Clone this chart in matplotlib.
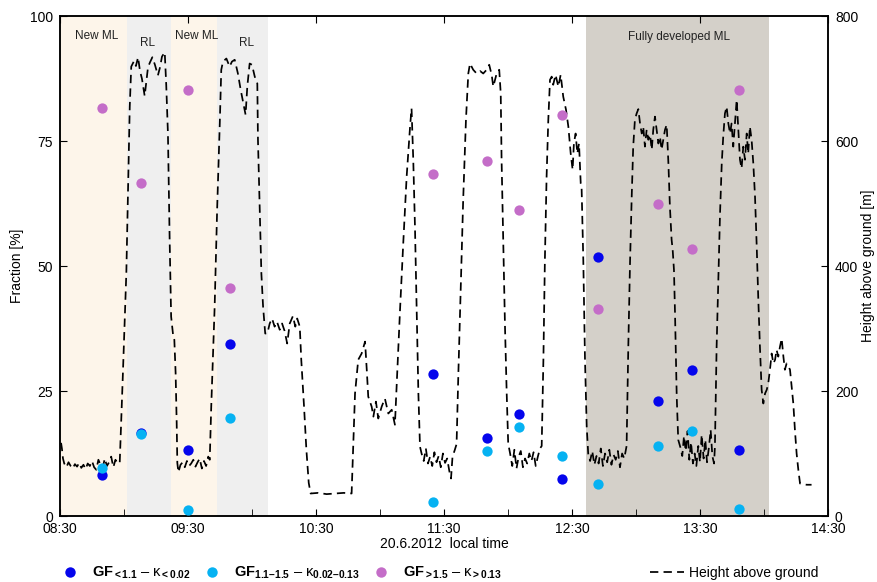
import matplotlib
matplotlib.use("Agg")
import matplotlib.pyplot as plt
from matplotlib.lines import Line2D

plt.rcParams['font.family'] = ['Liberation Sans', 'DejaVu Sans']
plt.rcParams['mathtext.fontset'] = 'custom'
plt.rcParams['mathtext.rm'] = 'Liberation Sans'
plt.rcParams['mathtext.it'] = 'Liberation Sans'
plt.rcParams['mathtext.bf'] = 'Liberation Sans:bold'

# ---------------- data ----------------
# time axis: minutes after 08:30 local time (20.6.2012)
tick_labels = ["08:30", "09:30", "10:30", "11:30", "12:30", "13:30", "14:30"]

# sample times (minutes after 08:30) of the fraction measurements
sample_time = [19.8, 37.8, 59.9, 79.8, 175.0, 200.2, 215.2, 235.3, 252.2, 280.3, 296.4, 318.4]
frac_low = [8.3, 16.6, 13.2, 34.5, 28.5, 15.7, 20.5, 7.5, 51.8, 23.1, 29.2, 13.2]      # GF<1.1
frac_mid = [9.7, 16.5, 1.3, 19.6, 2.9, 13.0, 17.9, 12.1, 6.5, 14.1, 17.1, 1.5]        # GF 1.1-1.5
frac_high = [81.7, 66.6, 85.2, 45.7, 68.5, 71.1, 61.3, 80.2, 41.4, 62.5, 53.5, 85.3]  # GF>1.5

# height above ground of the measurement platform
height_time = [
    0.5, 0.9, 1.4, 2, 3, 4, 5, 6, 7, 8, 9, 10, 11, 12, 13, 14, 15, 16, 17, 18, 19, 20, 21, 22, 23, 24, 25, 26, 27,
    28.0, 29.5, 31.1, 31.9, 32.7, 33.4,
    34.7, 35.6, 36.6, 37.5, 38.4, 39.7, 40.3, 41.25, 42.2, 43.3, 44.5, 45.9, 46.9, 47.8, 49.1, 49.8,
    50.6, 51.4, 52.1, 53.0, 53.6, 54.2, 54.7, 55.0,
    55.5, 56.5, 57.5, 58.5, 59.5, 60.5, 61.5, 62.5, 63.5, 64.5, 65.5, 66.5, 67.5, 68.5, 69.5, 70.2,
    70.9, 72.5, 73.7, 74.9, 75.6,
    76.4, 78.0, 79.5, 80.6, 81.9, 83.4, 84.7, 85.8, 87.0, 87.8, 88.9, 90.0, 91.3, 92.5,
    92.8, 93.6, 94.4, 95.2, 96.2,
    97.2, 98.3, 99.4, 100.6, 101.7, 103.0, 104.1, 105.3, 106.5, 107.7, 109.2, 110.3, 111.2, 112.4,
    113.1, 114.4, 115.5, 116.6, 117.5,
    121, 125, 129, 133, 136.7,
    137.5, 138.3, 139.8, 141.4, 143.0, 143.8, 144.5, 146.1, 146.9, 148.1, 149.2, 150.8, 152.3, 153.9, 155.5, 157.0,
    157.8, 159.4, 160.9, 162.5, 164.1, 164.8,
    165.6, 166.4, 167.2, 168.0, 168.75,
    169.5, 170.5, 171.5, 172.5, 173.5, 174.5, 175.5, 176.5, 177.5, 178.5, 179.5, 180.5, 181.5, 182.5, 183.3, 184, 185, 185.9,
    186.7, 187.8, 189.0, 190.3, 191.4,
    192.2, 193.7, 195.3, 196.9, 198.4, 200, 201.2, 202.4, 203.1, 204.7, 205.9,
    206.6, 207.0, 207.8, 208.6, 209.4, 210.1,
    211, 212, 213, 214, 215, 216, 217, 218, 219, 220, 221, 222, 223, 224, 225, 225.8,
    226.6, 227.3, 228.1, 228.9, 229.7,
    230.5, 231.2, 232.3, 233.6, 234.7, 235.9, 237.2, 238.3, 239.4, 240.3, 240.9, 241.7, 242.5, 243.3, 244.1, 244.5,
    245.3, 246.1, 246.9, 247.6,
    248.5, 249.5, 250.5, 251.5, 252.5, 253.5, 254.5, 255.5, 256.5, 257.5, 258.5, 259.5, 260.5, 261.5, 262.5, 263.5, 264.5, 265.6,
    266.4, 267.2, 268.0, 268.7, 269.5,
    270.3, 271.1, 271.9, 272.7, 273.4, 274.2, 275.0, 275.8, 276.6, 277.4, 278.1, 278.9, 279.7, 280.5, 281.25, 282.0, 282.8, 283.6, 284.4, 285.2,
    285.9, 286.7, 287.2, 287.5, 287.8, 288.3, 289.1, 289.8,
    290.8, 291.7, 292.5, 293.3, 294.2, 295, 295.8, 296.7, 297.5, 298.3, 299.2, 300, 300.8, 301.7, 302.5, 303.3, 304.2, 305, 305.8, 306.6, 307.0,
    307.8, 308.6, 309.4, 310.2, 310.9,
    311.7, 312.5, 313.3, 314.1, 314.8, 315.6, 316.4, 317.2, 318.0, 318.75, 319.5, 320.3, 321.1, 321.9, 322.6, 323.4, 324.2, 325.0,
    325.8, 326.6, 327.3, 328.1, 328.9, 329.7,
    330.5, 331.3, 332.0, 332.8, 333.6, 334.4, 335.2, 335.9, 336.7, 337.5, 338.3, 339.1, 339.8, 340.6, 341.4, 342.2,
    343.0, 343.75, 344.5, 345.3, 346.1, 346.9, 348.4, 350, 352.3,
]
height_m = [
    117, 108, 92, 84, 78, 86, 80, 76, 83, 79, 85, 77, 82, 75, 84, 80, 88, 78, 74, 90, 82, 77, 92, 80, 86, 95, 78, 90, 84,
    85, 229, 389, 522, 655, 719,
    728, 720, 734, 712, 700, 672, 690, 718, 726, 734, 722, 705, 718, 735, 742, 690,
    612, 442, 319, 290, 282, 229, 149, 85,
    70, 82, 86, 78, 88, 80, 84, 90, 79, 86, 92, 76, 88, 80, 95, 90,
    175, 335, 495, 628, 714,
    727, 732, 719, 727, 730, 708, 682, 663, 642, 687, 724, 722, 703, 692,
    602, 495, 388, 335, 292,
    292, 308, 316, 303, 311, 298, 308, 296, 276, 308, 320, 303, 316, 303,
    250, 175, 106, 53, 36,
    37, 35, 36, 37, 36,
    116, 196, 250, 260, 279, 234, 191, 175, 159, 183, 156, 175, 188, 164, 170, 146,
    207, 330, 436, 543, 623, 652,
    570, 463, 330, 196, 111,
    100, 88, 108, 84, 95, 80, 102, 86, 96, 78, 100, 85, 92, 72, 60, 95, 105, 115,
    223, 356, 506, 634, 708,
    724, 714, 708, 712, 708, 714, 722, 705, 687, 708, 714,
    676, 570, 436, 303, 196, 116,
    100, 80, 106, 76, 95, 104, 78, 92, 84, 100, 88, 102, 80, 95, 108, 112,
    250, 410, 543, 634, 698,
    703, 690, 706, 687, 706, 671, 650, 623, 580, 554, 596, 612, 580, 596, 532, 527,
    410, 250, 143, 100,
    88, 104, 82, 96, 84, 108, 80, 100, 86, 106, 82, 98, 90, 104, 78, 100, 92, 112,
    271, 404, 511, 591, 634,
    644, 651, 628, 612, 623, 591, 618, 602, 610, 586, 618, 639, 618, 596, 607, 586, 602, 618, 626, 564,
    495, 442, 426, 410, 394, 324, 191, 122,
    110, 96, 128, 104, 136, 90, 118, 84, 100, 80, 112, 86, 130, 92, 122, 86, 110, 138, 96, 84, 111,
    271, 378, 484, 564, 607,
    644, 655, 628, 612, 628, 591, 628, 666, 618, 570, 556, 591, 570, 612, 580, 623, 602, 564,
    511, 431, 351, 271, 202, 180,
    196, 202, 212, 234, 260, 244, 250, 266, 255, 271, 284, 255, 234, 244, 240, 234,
    207, 180, 138, 100, 74, 52, 51, 50, 50,
]

# boundary-layer regimes (start, end in minutes after 08:30)
regime_names = ["New ML", "RL", "New ML", "RL", "Fully developed ML"]
regime_start = [0, 31.4, 51.9, 73.5, 246.6]
regime_end = [31.4, 51.9, 73.5, 97.4, 332.3]
regime_colors = ["#FDF5EA", "#EFEFEF", "#FDF5EA", "#EFEFEF", "#D4D0C9"]
regime_label_pos = [(17.3, 96.0), (40.8, 94.6), (64.1, 96.0), (87.5, 94.6), (290.0, 95.8)]

c_low, c_mid, c_high = "#0505EC", "#06B2F2", "#C46DC8"

# ---------------- figure ----------------
fig = plt.figure(figsize=(8.77, 5.82), dpi=100)
ax = fig.add_axes([0.0684, 0.1134, 0.8757, 0.8591])
ax2 = ax.twinx()
ax.set_zorder(ax2.get_zorder() + 1)
ax.patch.set_visible(False)

for s, e, c in zip(regime_start, regime_end, regime_colors):
    ax2.axvspan(s, e, color=c, lw=0, zorder=0)

ax2.plot(height_time, height_m, color="black", lw=1.25, ls=(0, (4.8, 3.0)), zorder=2)
ax2.set_ylim(0, 800)
ax2.set_yticks([0, 200, 400, 600, 800])
ax2.set_ylabel("Height above ground [m]", fontsize=10, labelpad=2)

ax.scatter(sample_time, frac_low, s=55, color=c_low, lw=0, zorder=3)
ax.scatter(sample_time, frac_mid, s=55, color=c_mid, lw=0, zorder=4)
ax.scatter(sample_time, frac_high, s=55, color=c_high, lw=0, zorder=5)

for name, (tx, ty) in zip(regime_names, regime_label_pos):
    ax.text(tx, ty, name, fontsize=8.5, ha="center", va="center", color="#222222")

ax.set_xlim(0, 360)
ax.set_ylim(0, 100)
ax.set_yticks([0, 25, 50, 75, 100])
ax.set_xticks(range(0, 361, 60))
ax.set_xticklabels(tick_labels)
ax.set_xticks(range(30, 361, 60), minor=True)
ax.set_ylabel("Fraction [%]", fontsize=10, labelpad=4)
ax.set_xlabel("20.6.2012  local time", fontsize=10, labelpad=1)

ax.tick_params(axis="x", which="major", direction="in", top=True, length=5, labelsize=10, pad=4)
ax.tick_params(axis="x", which="minor", direction="in", top=False, length=5)
ax.tick_params(axis="y", direction="in", length=5, labelsize=10, pad=5)
ax2.tick_params(axis="y", direction="in", length=5, labelsize=10, pad=5)
for a in (ax, ax2):
    for sp in a.spines.values():
        sp.set_linewidth(1.1)

# legends
h1 = Line2D([], [], ls="none", marker="o", ms=7.5, color=c_low, mec="none")
h2 = Line2D([], [], ls="none", marker="o", ms=7.5, color=c_mid, mec="none")
h3 = Line2D([], [], ls="none", marker="o", ms=7.5, color=c_high, mec="none")
labels = [
    r"$\mathbf{GF}_{\mathbf{<1.1}}$ – $\kappa_{\mathbf{<0.02}}$",
    r"$\mathbf{GF}_{\mathbf{1.1–1.5}}$ – $\kappa_{\mathbf{0.02–0.13}}$",
    r"$\mathbf{GF}_{\mathbf{>1.5}}$ – $\kappa_{\mathbf{>0.13}}$",
]
fig.legend([h1, h2, h3], labels, loc="center left", bbox_to_anchor=(0.0715, 0.0155),
           ncol=3, frameon=False, fontsize=10.5, handlelength=1.0, handletextpad=1.0,
           columnspacing=0.95, borderaxespad=0, borderpad=0)
h4 = Line2D([], [], color="black", lw=1.25, ls=(0, (4.8, 3.0)))
fig.legend([h4], ["Height above ground"], loc="center left", bbox_to_anchor=(0.7415, 0.0155),
           frameon=False, fontsize=10, handlelength=2.4, handletextpad=0.4,
           borderaxespad=0, borderpad=0)

fig.savefig("out.png", dpi=100)
